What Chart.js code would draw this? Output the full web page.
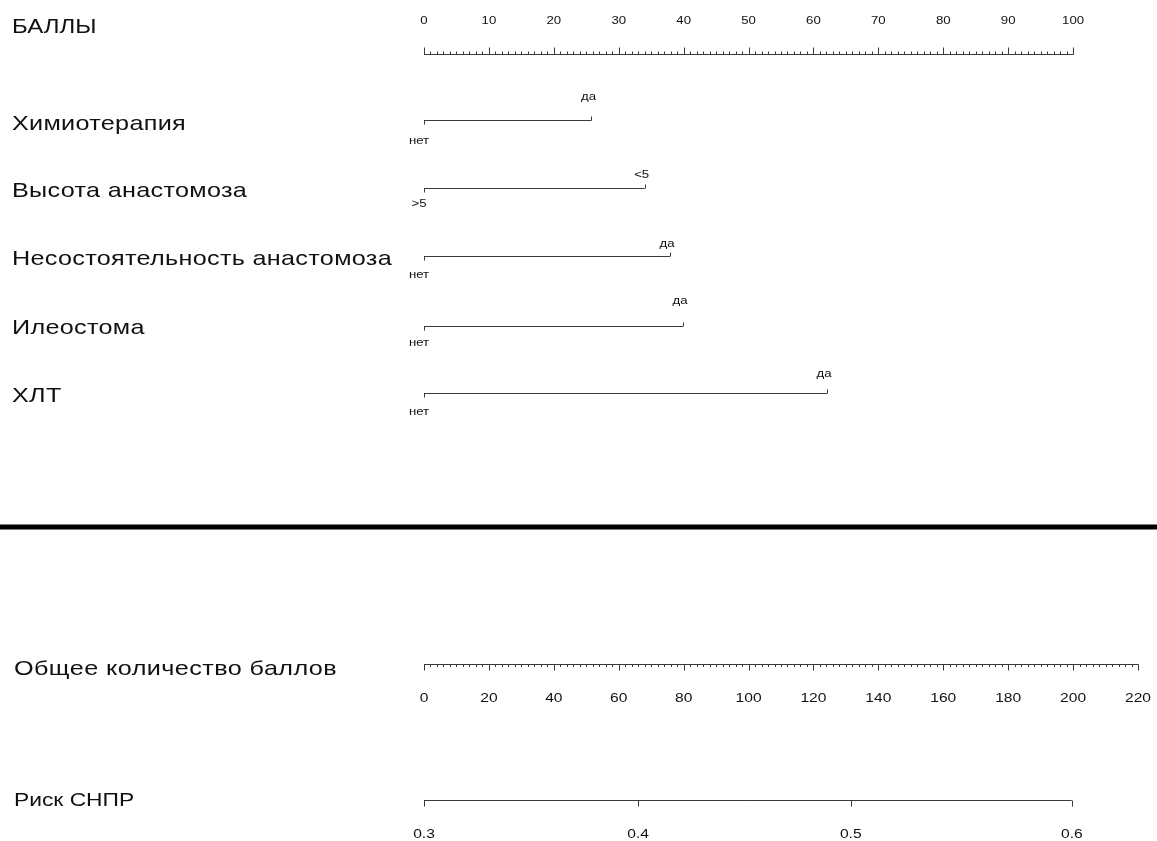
<!DOCTYPE html>
<html>
<head>
<meta charset="utf-8">
<script src="https://cdn.jsdelivr.net/npm/chart.js@4"></script>
<style>
  html, body { margin: 0; padding: 0; background: #fff; }
  #wrap { position: relative; width: 1157px; height: 841px; }
</style>
</head>
<body>
<div id="wrap"><canvas id="nomogram"></canvas></div>
<script>
// данные номограммы
const variables = ['Химиотерапия', 'Высота анастомоза', 'Несостоятельность анастомоза', 'Илеостома', 'ХЛТ'];
const lowLevels = ['нет', '>5', 'нет', 'нет', 'нет'];
const highLevels = ['да', '<5', 'да', 'да', 'да'];
const lowPoints = [0, 0, 0, 0, 0];
const highPoints = [25.8, 34.0, 37.9, 39.9, 62.1];

const pointTicks = [0, 10, 20, 30, 40, 50, 60, 70, 80, 90, 100];
const totalTicks = [0, 20, 40, 60, 80, 100, 120, 140, 160, 180, 200, 220];
const riskTicks = [0.3, 0.4, 0.5, 0.6];
const riskTickTotals = [0, 66.0, 131.5, 199.6];

const pointsTitle = 'БАЛЛЫ';
const totalTitle = 'Общее количество баллов';
const riskTitle = 'Риск СНПР';

// раскладка (пиксели)
const L = {
    left: 424, right: 19,
    titleX: 12,
    pointsAxisY: 54.5, pointsTitleY: 33,
    rowY: [120.5, 188.5, 256.5, 326.5, 393.5],
    titleShift: [9.5, 8, 8, 7.5, 8.5],
    highLabelY: [100, 178, 247, 304, 377],
    lowLabelY: [144, 207, 278, 346, 415],
    separatorY: 527,
    totalAxisY: 664.5, totalTitleY: 675,
    riskAxisY: 800.5, riskTitleY: 806,
    stretch: 1.2
};

const LINE = '#3a3a3a';
const FONT = '"Liberation Sans", Arial, sans-serif';

function text(ctx, str, x, y, size, align, spacing) {
    ctx.save();
    ctx.font = size + 'px ' + FONT;
    ctx.letterSpacing = (spacing || 0) + 'px';
    ctx.fillStyle = '#111';
    ctx.textBaseline = 'alphabetic';
    ctx.translate(x, y);
    ctx.scale(L.stretch, 1);
    ctx.textAlign = align || 'center';
    ctx.fillText(str, 0, 0);
    ctx.restore();
}

function vline(ctx, x, y1, y2) {
    x = Math.round(x) + 0.5;
    ctx.beginPath();
    ctx.moveTo(x, y1);
    ctx.lineTo(x, y2);
    ctx.stroke();
}

const nomogramPlugin = {
    id: 'nomogram',
    afterDatasetsDraw(chart) {
        const ctx = chart.ctx;
        const xs = chart.scales.x;
        const xt = chart.scales.xt;
        const ys = chart.scales.y;
        ctx.save();
        ctx.strokeStyle = LINE;
        ctx.lineWidth = 1;

        // шкала баллов: малые и большие деления, подписи сверху
        const pY = ys.getPixelForValue(L.pointsAxisY);
        for (let v = pointTicks[0]; v <= pointTicks[pointTicks.length - 1]; v += 1) {
            vline(ctx, xs.getPixelForValue(v), pY - 3, pY);
        }
        pointTicks.forEach(v => {
            const px = xs.getPixelForValue(v);
            vline(ctx, px, pY - 7, pY);
            text(ctx, String(v), px, 24, 11);
        });

        // переменные
        variables.forEach((name, i) => {
            const y = ys.getPixelForValue(L.rowY[i]);
            const x0 = xs.getPixelForValue(lowPoints[i]);
            const x1 = xs.getPixelForValue(highPoints[i]);
            vline(ctx, x0, y, y + 4);
            vline(ctx, x1, y - 4, y);
            text(ctx, lowLevels[i], x0 - 5, L.lowLabelY[i], 11);
            text(ctx, highLevels[i], x1 - 3, L.highLabelY[i], 11);
            text(ctx, name, L.titleX, y + L.titleShift[i], 21, 'left', 0.25);
        });
        text(ctx, pointsTitle, L.titleX, L.pointsTitleY, 20, 'left');

        // разделитель
        ctx.save();
        ctx.strokeStyle = '#000';
        ctx.lineWidth = 5;
        ctx.beginPath();
        ctx.moveTo(0, L.separatorY);
        ctx.lineTo(chart.width, L.separatorY);
        ctx.stroke();
        ctx.restore();

        // общее количество баллов
        const tY = ys.getPixelForValue(L.totalAxisY);
        for (let v = totalTicks[0]; v <= totalTicks[totalTicks.length - 1]; v += 2) {
            vline(ctx, xt.getPixelForValue(v), tY, tY + 2.5);
        }
        totalTicks.forEach(v => {
            const px = xt.getPixelForValue(v);
            vline(ctx, px, tY, tY + 6);
            text(ctx, String(v), px, tY + 37, 13);
        });
        text(ctx, totalTitle, L.titleX + 2, L.totalTitleY, 21, 'left', 0.35);

        // риск
        const rY = ys.getPixelForValue(L.riskAxisY);
        riskTicks.forEach((r, i) => {
            const px = xt.getPixelForValue(riskTickTotals[i]);
            vline(ctx, px, rY, rY + 6);
            text(ctx, r.toFixed(1), px, rY + 37, 13);
        });
        text(ctx, riskTitle, L.titleX + 2, L.riskTitleY, 19, 'left');

        ctx.restore();
    }
};

const datasets = variables.map((name, i) => ({
    label: name,
    xAxisID: 'x',
    data: [{ x: lowPoints[i], y: L.rowY[i] }, { x: highPoints[i], y: L.rowY[i] }]
}));
datasets.push({
    label: pointsTitle, xAxisID: 'x',
    data: [{ x: pointTicks[0], y: L.pointsAxisY }, { x: pointTicks[pointTicks.length - 1], y: L.pointsAxisY }]
});
datasets.push({
    label: totalTitle, xAxisID: 'xt',
    data: [{ x: totalTicks[0], y: L.totalAxisY }, { x: totalTicks[totalTicks.length - 1], y: L.totalAxisY }]
});
datasets.push({
    label: riskTitle, xAxisID: 'xt',
    data: [{ x: riskTickTotals[0], y: L.riskAxisY }, { x: riskTickTotals[riskTickTotals.length - 1], y: L.riskAxisY }]
});
datasets.forEach(d => Object.assign(d, {
    borderColor: LINE, borderWidth: 1, pointRadius: 0, fill: false, tension: 0
}));

new Chart(document.getElementById('nomogram').getContext('2d'), {
    type: 'line',
    data: { datasets },
    options: {
        responsive: true,
        maintainAspectRatio: false,
        animation: false,
        layout: { padding: { left: L.left, right: L.right, top: 0, bottom: 0 } },
        plugins: { legend: { display: false }, tooltip: { enabled: false } },
        scales: {
            // 100 баллов = 200 в общей шкале
            x: { type: 'linear', min: 0, max: 110, display: false },
            xt: { type: 'linear', axis: 'x', min: 0, max: 220, display: false },
            y: { type: 'linear', min: 0, max: 841, reverse: true, display: false }
        }
    },
    plugins: [nomogramPlugin]
});
</script>
</body>
</html>
